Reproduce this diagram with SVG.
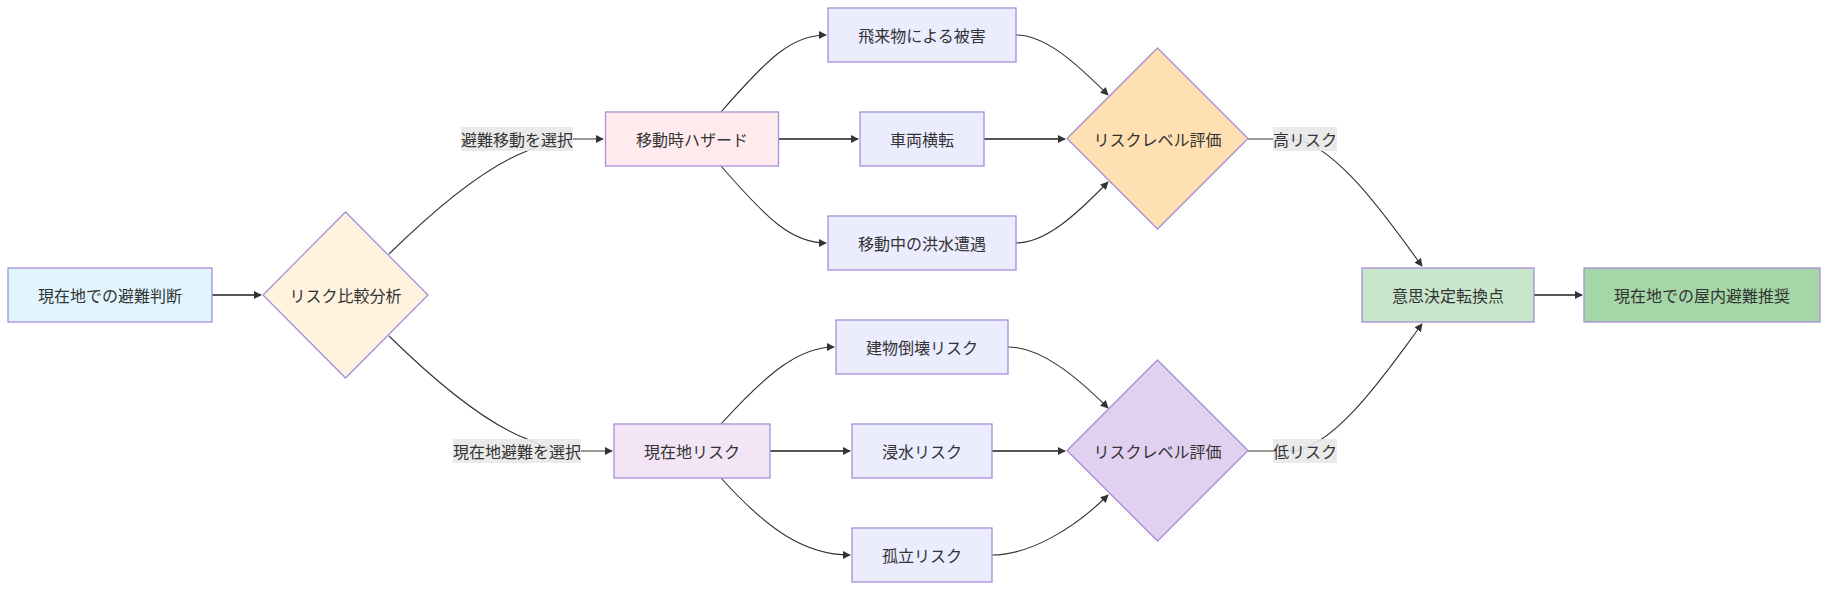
<svg xmlns="http://www.w3.org/2000/svg" width="1828" height="590" viewBox="0 0 1828 590">
<defs>
<marker id="arr" viewBox="0 0 10 10" refX="9" refY="5" markerWidth="8" markerHeight="8" markerUnits="userSpaceOnUse" orient="auto">
<path d="M0,0 L10,5 L0,10 z" fill="#333"/>
</marker>
<style>
.n{stroke:#a68fd9;stroke-width:1.3}
.t{font-family:"Noto Sans CJK JP","Noto Sans",sans-serif;font-size:16px;fill:#333;text-anchor:middle;dominant-baseline:central}
.e{fill:none;stroke:#333;stroke-width:1.1;marker-end:url(#arr)}
.s{stroke-width:1.8;stroke:#555}
.lb{fill:#e8e8e8;fill-opacity:0.9}
</style>
</defs>
<rect width="1828" height="590" fill="#fff"/>
<g id="edges">
<path class="e s" d="M212,295 L261,295"/>
<path class="e" d="M389,254 C440,204 490,165 527,151 C540,146 548,139 565,139 L603,139"/>
<path class="e" d="M389,336 C440,386 490,425 527,439 C540,444 548,451 565,451 L612,451"/>
<path class="e" d="M721,112 C768,58 792,35 826,35"/>
<path class="e s" d="M778,139 L858,139"/>
<path class="e" d="M721,166 C768,220 792,243 826,243"/>
<path class="e" d="M721,424 C768,372 800,347 834,347"/>
<path class="e s" d="M770,451 L850,451"/>
<path class="e" d="M721,478 C768,530 805,555 850,555"/>
<path class="e" d="M1016,35 C1045,35 1075,62 1108,95"/>
<path class="e s" d="M984,139 L1065,139"/>
<path class="e" d="M1016,243 C1045,243 1075,216 1108,182"/>
<path class="e" d="M1008,347 C1040,347 1075,375 1108,408"/>
<path class="e s" d="M992,451 L1065,451"/>
<path class="e" d="M992,555 C1030,555 1075,528 1108,495"/>
<path class="e" d="M1248,139 L1290,139 C1335,139 1395,230 1422,266"/>
<path class="e" d="M1248,451 L1290,451 C1335,451 1395,360 1422,324"/>
<path class="e s" d="M1534,295 L1582,295"/>
</g>
<g id="edge-labels">
<rect class="lb" x="461" y="127" width="112" height="24"/>
<text class="t" x="517" y="139">避難移動を選択</text>
<rect class="lb" x="453" y="439" width="128" height="24"/>
<text class="t" x="517" y="451">現在地避難を選択</text>
<rect class="lb" x="1273" y="127" width="64" height="24"/>
<text class="t" x="1305" y="139">高リスク</text>
<rect class="lb" x="1273" y="439" width="64" height="24"/>
<text class="t" x="1305" y="451">低リスク</text>
</g>
<g id="A"><rect class="n" x="8" y="268" width="204" height="54" fill="#e1f5fe"/><text class="t" x="110" y="295">現在地での避難判断</text></g>
<g id="B"><polygon class="n" points="345.5,212 428,295 345.5,378 263,295" fill="#fff3e0"/><text class="t" x="345.5" y="295">リスク比較分析</text></g>
<g id="C"><rect class="n" x="605.5" y="112" width="173" height="54" fill="#ffebee"/><text class="t" x="692" y="139">移動時ハザード</text></g>
<g id="D"><rect class="n" x="614" y="424" width="156" height="54" fill="#f3e5f5"/><text class="t" x="692" y="451">現在地リスク</text></g>
<g id="C1"><rect class="n" x="828" y="8" width="188" height="54" fill="#ececff"/><text class="t" x="922" y="35">飛来物による被害</text></g>
<g id="C2"><rect class="n" x="860" y="112" width="124" height="54" fill="#ececff"/><text class="t" x="922" y="139">車両横転</text></g>
<g id="C3"><rect class="n" x="828" y="216" width="188" height="54" fill="#ececff"/><text class="t" x="922" y="243">移動中の洪水遭遇</text></g>
<g id="D1"><rect class="n" x="836" y="320" width="172" height="54" fill="#ececff"/><text class="t" x="922" y="347">建物倒壊リスク</text></g>
<g id="D2"><rect class="n" x="852" y="424" width="140" height="54" fill="#ececff"/><text class="t" x="922" y="451">浸水リスク</text></g>
<g id="D3"><rect class="n" x="852" y="528" width="140" height="54" fill="#ececff"/><text class="t" x="922" y="555">孤立リスク</text></g>
<g id="E1"><polygon class="n" points="1157.5,48 1248,138.5 1157.5,229 1067,138.5" fill="#ffe0b2"/><text class="t" x="1157.5" y="139">リスクレベル評価</text></g>
<g id="E2"><polygon class="n" points="1157.5,360 1248,450.5 1157.5,541 1067,450.5" fill="#e1d0f0"/><text class="t" x="1157.5" y="451">リスクレベル評価</text></g>
<g id="F"><rect class="n" x="1362" y="268" width="172" height="54" fill="#c8e6c9"/><text class="t" x="1448" y="295">意思決定転換点</text></g>
<g id="G"><rect class="n" x="1584" y="268" width="236" height="54" fill="#a5d6a7"/><text class="t" x="1702" y="295">現在地での屋内避難推奨</text></g>
</svg>
